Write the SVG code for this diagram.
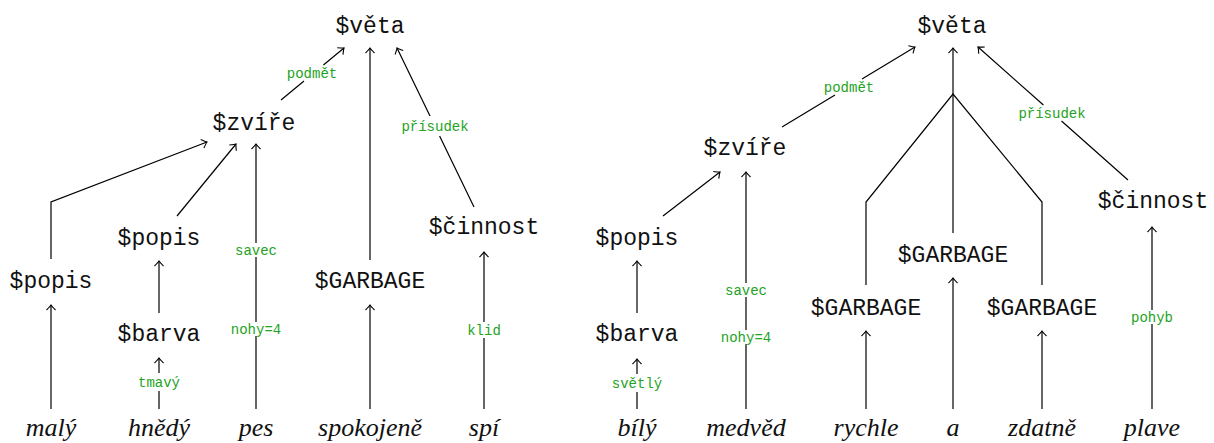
<svg xmlns="http://www.w3.org/2000/svg" width="1214" height="443" viewBox="0 0 1214 443">
<defs>
<marker id="ar" markerUnits="userSpaceOnUse" markerWidth="14" markerHeight="14" viewBox="-7 -7 14 14" refX="0" refY="0" orient="auto" overflow="visible">
<path d="M-5,-4.5 C-2.5,-2 -1,-0.6 0,0 C-1,0.6 -2.5,2 -5,4.5" fill="none" stroke="#000" stroke-width="1.1"/>
</marker>
</defs>
<style>
.n{font-family:"Liberation Mono","DejaVu Sans Mono",monospace;font-size:23px;fill:#111;text-anchor:middle}
.w{font-family:"Liberation Serif","DejaVu Serif",serif;font-style:italic;font-size:26px;fill:#111;text-anchor:middle}
.l{font-family:"Liberation Mono","DejaVu Sans Mono",monospace;font-size:14px;fill:#22a322;text-anchor:middle}
.c path{fill:none;stroke:#000;stroke-width:1.2}
.a{marker-end:url(#ar)}
</style>
<rect width="1214" height="443" fill="#fff"/>
<g id="connectors" class="c">
<!-- left tree -->
<path class="a" d="M281,100 L304,81 M323.4,65 L344,48"/>
<path class="a" d="M370,260 L370,48"/>
<path class="a" d="M474,207 L439.6,136 M430,116 L397,48"/>
<path class="a" d="M51,259 L51,202 L207,142"/>
<path class="a" d="M177,216 L236,144"/>
<path class="a" d="M256,409 L256,336 M256,322 L256,257 M256,243 L256,144"/>
<path class="a" d="M51,409 L51,305"/>
<path class="a" d="M159,313 L159,261"/>
<path class="a" d="M159,409 L159,391 M159,373 L159,358"/>
<path class="a" d="M370,409 L370,305"/>
<path class="a" d="M484,409 L484,338 M484,322 L484,252"/>
<!-- right tree -->
<path class="a" d="M782,127 L835,95 M862,79 L915,47"/>
<path class="a" d="M953,233 L953,48"/>
<path d="M866,285 L866,202 L953,94 L1042,202 L1042,285"/>
<path class="a" d="M1128,180 L1061.5,121 M1043.4,105 L978,47"/>
<path class="a" d="M663,216 L720,172"/>
<path class="a" d="M746,409 L746,344 M746,330 L746,297 M746,283 L746,172"/>
<path class="a" d="M637,409 L637,392 M637,374 L637,359"/>
<path class="a" d="M637,313 L637,261"/>
<path class="a" d="M866,409 L866,331"/>
<path class="a" d="M953,409 L953,278"/>
<path class="a" d="M1042,409 L1042,331"/>
<path class="a" d="M1152,409 L1152,324 M1152,310 L1152,227"/>
</g>
<g id="edge-labels">
<text class="l" x="312" y="78">podmět</text>
<text class="l" x="435" y="131">přísudek</text>
<text class="l" x="256" y="255">savec</text>
<text class="l" x="256" y="334">nohy=4</text>
<text class="l" x="159" y="387">tmavý</text>
<text class="l" x="484" y="335">klid</text>
<text class="l" x="849" y="92">podmět</text>
<text class="l" x="1052" y="118">přísudek</text>
<text class="l" x="746" y="295">savec</text>
<text class="l" x="746" y="342">nohy=4</text>
<text class="l" x="637" y="388">světlý</text>
<text class="l" x="1152" y="322">pohyb</text>
</g>
<!-- left tree nodes -->
<g id="L-veta"><text class="n" x="370" y="33">$věta</text></g>
<g id="L-zvire"><text class="n" x="254" y="130">$zvíře</text></g>
<g id="L-popis1"><text class="n" x="51" y="288">$popis</text></g>
<g id="L-popis2"><text class="n" x="159" y="245">$popis</text></g>
<g id="L-barva"><text class="n" x="159" y="341">$barva</text></g>
<g id="L-garbage"><text class="n" x="370" y="288">$GARBAGE</text></g>
<g id="L-cinnost"><text class="n" x="484" y="234">$činnost</text></g>
<g id="L-maly"><text class="w" x="51" y="436">malý</text></g>
<g id="L-hnedy"><text class="w" x="159" y="436">hnědý</text></g>
<g id="L-pes"><text class="w" x="256" y="436">pes</text></g>
<g id="L-spokojene"><text class="w" x="370" y="436">spokojeně</text></g>
<g id="L-spi"><text class="w" x="484" y="436">spí</text></g>
<!-- right tree nodes -->
<g id="R-veta"><text class="n" x="952" y="33">$věta</text></g>
<g id="R-zvire"><text class="n" x="745" y="155">$zvíře</text></g>
<g id="R-popis"><text class="n" x="637" y="245">$popis</text></g>
<g id="R-barva"><text class="n" x="637" y="341">$barva</text></g>
<g id="R-garbage1"><text class="n" x="866" y="315">$GARBAGE</text></g>
<g id="R-garbage2"><text class="n" x="953" y="262">$GARBAGE</text></g>
<g id="R-garbage3"><text class="n" x="1042" y="315">$GARBAGE</text></g>
<g id="R-cinnost"><text class="n" x="1153" y="208">$činnost</text></g>
<g id="R-bily"><text class="w" x="637" y="436">bílý</text></g>
<g id="R-medved"><text class="w" x="746" y="436">medvěd</text></g>
<g id="R-rychle"><text class="w" x="866" y="436">rychle</text></g>
<g id="R-a"><text class="w" x="953" y="436">a</text></g>
<g id="R-zdatne"><text class="w" x="1042" y="436">zdatně</text></g>
<g id="R-plave"><text class="w" x="1152" y="436">plave</text></g>
</svg>
